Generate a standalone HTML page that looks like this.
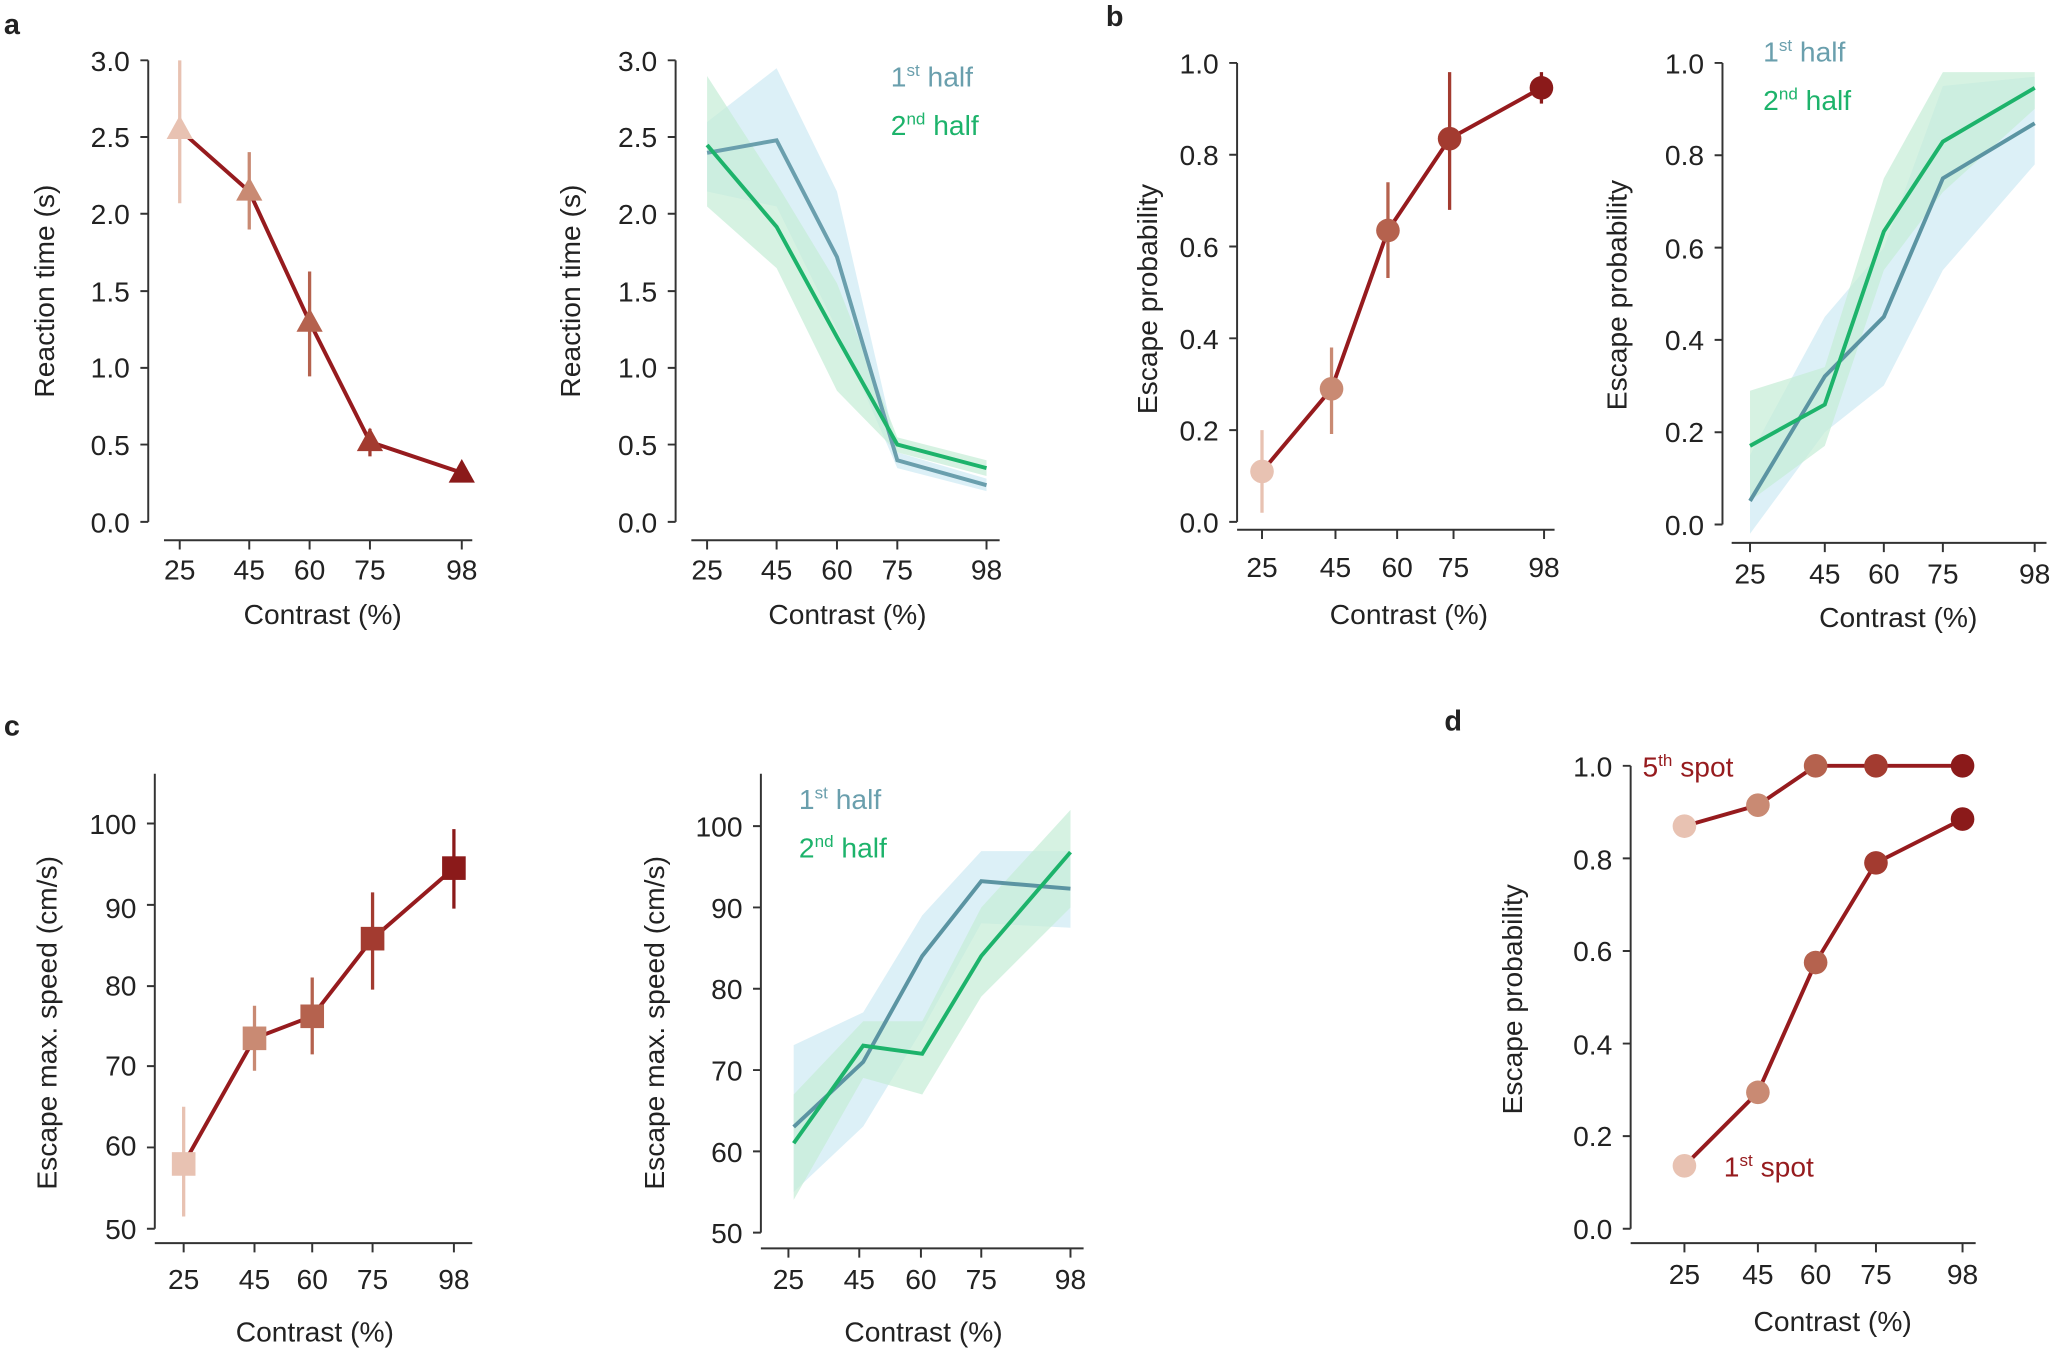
<!DOCTYPE html>
<html><head><meta charset="utf-8"><style>
html,body{margin:0;padding:0;background:#fff}
svg{display:block}
text{font-family:"Liberation Sans",Arial,sans-serif;fill:#222}
</style></head><body>
<svg width="2057" height="1352" viewBox="0 0 1568 1031" preserveAspectRatio="none" xmlns="http://www.w3.org/2000/svg">
<g font-size="21.5">
<!-- panel letters -->
<text x="3" y="26" font-weight="bold" font-size="22">a</text>
<text x="843" y="20" font-weight="bold" font-size="22">b</text>
<text x="3" y="561" font-weight="bold" font-size="22">c</text>
<text x="1101" y="557" font-weight="bold" font-size="22">d</text>

<!-- ===== Panel a left ===== -->
<g stroke="#333" stroke-width="1.5" fill="none">
<path d="M113 46V398M107 46H113M107 104.5H113M107 163H113M107 222H113M107 280.5H113M107 339H113M107 398H113"/>
<path d="M125 412H360M137 412v7M190 412v7M236 412v7M282 412v7M352 412v7"/>
</g>
<g text-anchor="end">
<text x="99" y="54">3.0</text><text x="99" y="112">2.5</text><text x="99" y="171">2.0</text><text x="99" y="230">1.5</text><text x="99" y="288">1.0</text><text x="99" y="347">0.5</text><text x="99" y="406">0.0</text>
</g>
<g text-anchor="middle">
<text x="137" y="442">25</text><text x="190" y="442">45</text><text x="236" y="442">60</text><text x="282" y="442">75</text><text x="352" y="442">98</text>
<text x="246" y="476">Contrast (%)</text>
<text transform="translate(41,222) rotate(-90)">Reaction time (s)</text>
</g>
<g stroke-width="2.5">
<line x1="137" y1="46" x2="137" y2="155" stroke="#e8c2b2"/>
<line x1="190" y1="116" x2="190" y2="175" stroke="#c98a73"/>
<line x1="236" y1="207" x2="236" y2="287" stroke="#b5624e"/>
<line x1="282" y1="327" x2="282" y2="348" stroke="#a33b30"/>
</g>
<polyline points="137,99 190,146 236,245.5 282,337 352,360.5" fill="none" stroke="#961b1e" stroke-width="3"/>
<polygon points="137,88 147,106 127,106" fill="#e8c2b2"/>
<polygon points="190,135 200,153 180,153" fill="#c98a73"/>
<polygon points="236,235 246,253 226,253" fill="#b5624e"/>
<polygon points="282,326 292,344 272,344" fill="#a33b30"/>
<polygon points="352,350 362,368 342,368" fill="#8b1a1a"/>

<!-- ===== Panel a right ===== -->
<g stroke="#333" stroke-width="1.5" fill="none">
<path d="M515 46V398M509 46H515M509 104.5H515M509 163H515M509 222H515M509 280.5H515M509 339H515M509 398H515"/>
<path d="M527 412H762M539 412v7M592 412v7M638 412v7M684 412v7M752 412v7"/>
</g>
<g text-anchor="end">
<text x="501" y="54">3.0</text><text x="501" y="112">2.5</text><text x="501" y="171">2.0</text><text x="501" y="230">1.5</text><text x="501" y="288">1.0</text><text x="501" y="347">0.5</text><text x="501" y="406">0.0</text>
</g>
<g text-anchor="middle">
<text x="539" y="442">25</text><text x="592" y="442">45</text><text x="638" y="442">60</text><text x="684" y="442">75</text><text x="752" y="442">98</text>
<text x="646" y="476">Contrast (%)</text>
<text transform="translate(442,222) rotate(-90)">Reaction time (s)</text>
</g>
<polygon points="539,93 592,52 638,146 684,345 752,365 752,374.5 684,357 638,251 592,157.5 539,146" fill="#cdeaf3" opacity="0.7"/>
<polygon points="539,58 592,140 638,216 684,333.5 752,351 752,363 684,345 638,298 592,204.5 539,157.5" fill="#c5ecd6" opacity="0.7"/>
<polyline points="539,116.5 592,107 638,196 684,351 752,370" fill="none" stroke="#6a9fad" stroke-width="3"/>
<polyline points="539,110.6 592,173 638,257 684,339 752,357" fill="none" stroke="#1db36b" stroke-width="3"/>
<text x="679" y="66" style="fill:#6a9fad">1<tspan font-size="13" dy="-8">st</tspan><tspan dy="8"> half</tspan></text>
<text x="679" y="103" style="fill:#1db36b">2<tspan font-size="13" dy="-8">nd</tspan><tspan dy="8"> half</tspan></text>

<!-- ===== Panel b left ===== -->
<g stroke="#333" stroke-width="1.5" fill="none">
<path d="M943 48V398M937 48H943M937 118H943M937 188H943M937 258H943M937 328H943M937 398H943"/>
<path d="M943 404H1185M962 404v7M1018 404v7M1065 404v7M1108 404v7M1177 404v7"/>
</g>
<g text-anchor="end">
<text x="929" y="56">1.0</text><text x="929" y="126">0.8</text><text x="929" y="196">0.6</text><text x="929" y="266">0.4</text><text x="929" y="336">0.2</text><text x="929" y="406">0.0</text>
</g>
<g text-anchor="middle">
<text x="962" y="440">25</text><text x="1018" y="440">45</text><text x="1065" y="440">60</text><text x="1108" y="440">75</text><text x="1177" y="440">98</text>
<text x="1074" y="476">Contrast (%)</text>
<text transform="translate(882,228) rotate(-90)">Escape probability</text>
</g>
<g stroke-width="2.5">
<line x1="962" y1="328" x2="962" y2="391" stroke="#e8c2b2"/>
<line x1="1015" y1="265" x2="1015" y2="331" stroke="#c98a73"/>
<line x1="1058" y1="139" x2="1058" y2="212" stroke="#b5624e"/>
<line x1="1105" y1="55" x2="1105" y2="160" stroke="#a33b30"/>
<line x1="1175" y1="55" x2="1175" y2="79" stroke="#8b1a1a"/>
</g>
<polyline points="962,359.5 1015,296.5 1058,175.75 1105,105.75 1175,67" fill="none" stroke="#961b1e" stroke-width="3"/>
<circle cx="962" cy="359.5" r="9" fill="#e8c2b2"/>
<circle cx="1015" cy="296.5" r="9" fill="#c98a73"/>
<circle cx="1058" cy="175.75" r="9" fill="#b5624e"/>
<circle cx="1105" cy="105.75" r="9" fill="#a33b30"/>
<circle cx="1175" cy="67" r="9" fill="#8b1a1a"/>

<!-- ===== Panel b right ===== -->
<g stroke="#333" stroke-width="1.5" fill="none">
<path d="M1313 48V400M1307 48H1313M1307 118.4H1313M1307 188.8H1313M1307 259.2H1313M1307 329.6H1313M1307 400H1313"/>
<path d="M1320 414H1560M1334 414v7M1391 414v7M1436 414v7M1481 414v7M1551 414v7"/>
</g>
<g text-anchor="end">
<text x="1299" y="56">1.0</text><text x="1299" y="126">0.8</text><text x="1299" y="197">0.6</text><text x="1299" y="267">0.4</text><text x="1299" y="337">0.2</text><text x="1299" y="408">0.0</text>
</g>
<g text-anchor="middle">
<text x="1334" y="445">25</text><text x="1391" y="445">45</text><text x="1436" y="445">60</text><text x="1481" y="445">75</text><text x="1551" y="445">98</text>
<text x="1447" y="478">Contrast (%)</text>
<text transform="translate(1240,225) rotate(-90)">Escape probability</text>
</g>
<polygon points="1334,347 1391,241.6 1436,189 1481,65.6 1551,58.5 1551,125.4 1481,206 1436,294 1391,329.6 1334,407" fill="#cdeaf3" opacity="0.7"/>
<polygon points="1334,298 1391,280 1436,136 1481,55 1551,55 1551,83 1481,146.5 1436,206 1391,340 1334,382" fill="#c5ecd6" opacity="0.7"/>
<polyline points="1334,382 1391,287 1436,241.6 1481,136 1551,94" fill="none" stroke="#5b94a2" stroke-width="3"/>
<polyline points="1334,340 1391,308.5 1436,176.5 1481,108 1551,67" fill="none" stroke="#1db36b" stroke-width="3"/>
<text x="1344" y="47" style="fill:#6a9fad">1<tspan font-size="13" dy="-8">st</tspan><tspan dy="8"> half</tspan></text>
<text x="1344" y="84" style="fill:#1db36b">2<tspan font-size="13" dy="-8">nd</tspan><tspan dy="8"> half</tspan></text>

<!-- ===== Panel c left ===== -->
<g stroke="#333" stroke-width="1.5" fill="none">
<path d="M118 590V937M112 628H118M112 690H118M112 752H118M112 813H118M112 875H118M112 937H118"/>
<path d="M118 948H360M140 948v7M194 948v7M238 948v7M284 948v7M346 948v7"/>
</g>
<g text-anchor="end">
<text x="104" y="636">100</text><text x="104" y="700">90</text><text x="104" y="759">80</text><text x="104" y="820">70</text><text x="104" y="881">60</text><text x="104" y="945">50</text>
</g>
<g text-anchor="middle">
<text x="140" y="983">25</text><text x="194" y="983">45</text><text x="238" y="983">60</text><text x="284" y="983">75</text><text x="346" y="983">98</text>
<text x="240" y="1023">Contrast (%)</text>
<text transform="translate(43,780) rotate(-90)">Escape max. speed (cm/s)</text>
</g>
<g stroke-width="2.5">
<line x1="140" y1="844" x2="140" y2="927.7" stroke="#e8c2b2"/>
<line x1="194" y1="767" x2="194" y2="816.5" stroke="#c98a73"/>
<line x1="238" y1="745.4" x2="238" y2="804" stroke="#b5624e"/>
<line x1="284" y1="680.5" x2="284" y2="754.7" stroke="#a33b30"/>
<line x1="346" y1="632.3" x2="346" y2="692.9" stroke="#8b1a1a"/>
</g>
<polyline points="140,887.6 194,791.8 238,775 284,715.8 346,662" fill="none" stroke="#961b1e" stroke-width="3"/>
<rect x="131" y="878.6" width="18" height="18" fill="#e8c2b2"/>
<rect x="185" y="782.8" width="18" height="18" fill="#c98a73"/>
<rect x="229" y="766" width="18" height="18" fill="#b5624e"/>
<rect x="275" y="706.8" width="18" height="18" fill="#a33b30"/>
<rect x="337" y="653" width="18" height="18" fill="#8b1a1a"/>

<!-- ===== Panel c right ===== -->
<g stroke="#333" stroke-width="1.5" fill="none">
<path d="M580 590V940M574 630H580M574 692H580M574 754H580M574 816H580M574 878H580M574 940H580"/>
<path d="M580 952H826M601 952v7M655 952v7M702 952v7M748 952v7M816 952v7"/>
</g>
<g text-anchor="end">
<text x="566" y="638">100</text><text x="566" y="700">90</text><text x="566" y="762">80</text><text x="566" y="824">70</text><text x="566" y="886">60</text><text x="566" y="948">50</text>
</g>
<g text-anchor="middle">
<text x="601" y="983">25</text><text x="655" y="983">45</text><text x="702" y="983">60</text><text x="748" y="983">75</text><text x="816" y="983">98</text>
<text x="704" y="1023">Contrast (%)</text>
<text transform="translate(506,780) rotate(-90)">Escape max. speed (cm/s)</text>
</g>
<polygon points="605,797 658,772 703,698 748,649 816,649 816,707.5 748,704 703,785 658,859 605,909" fill="#cdeaf3" opacity="0.7"/>
<polygon points="605,834.6 658,778.8 703,778.8 748,692 816,617.6 816,692 748,760 703,834.6 658,822 605,915" fill="#c5ecd6" opacity="0.7"/>
<polyline points="605,859.4 658,809.8 703,729 748,672 816,677.7" fill="none" stroke="#5b94a2" stroke-width="3"/>
<polyline points="605,871.8 658,797.4 703,803.6 748,729 816,649.8" fill="none" stroke="#1db36b" stroke-width="3"/>
<text x="609" y="617" style="fill:#6a9fad">1<tspan font-size="13" dy="-8">st</tspan><tspan dy="8"> half</tspan></text>
<text x="609" y="654" style="fill:#1db36b">2<tspan font-size="13" dy="-8">nd</tspan><tspan dy="8"> half</tspan></text>

<!-- ===== Panel d ===== -->
<g stroke="#333" stroke-width="1.5" fill="none">
<path d="M1243 584V937M1237 584H1243M1237 654.6H1243M1237 725.2H1243M1237 795.8H1243M1237 866.4H1243M1237 937H1243"/>
<path d="M1243 948H1506M1284 948v7M1340 948v7M1384 948v7M1430 948v7M1496 948v7"/>
</g>
<g text-anchor="end">
<text x="1229" y="592">1.0</text><text x="1229" y="663">0.8</text><text x="1229" y="733">0.6</text><text x="1229" y="804">0.4</text><text x="1229" y="874">0.2</text><text x="1229" y="945">0.0</text>
</g>
<g text-anchor="middle">
<text x="1284" y="979">25</text><text x="1340" y="979">45</text><text x="1384" y="979">60</text><text x="1430" y="979">75</text><text x="1496" y="979">98</text>
<text x="1397" y="1015">Contrast (%)</text>
<text transform="translate(1160,762) rotate(-90)">Escape probability</text>
</g>
<polyline points="1284,630 1340,614 1384,584 1430,584 1496,584" fill="none" stroke="#961b1e" stroke-width="3"/>
<polyline points="1284,889 1340,833 1384,734 1430,658 1496,624.6" fill="none" stroke="#961b1e" stroke-width="3"/>
<circle cx="1284" cy="630" r="9" fill="#e8c2b2"/>
<circle cx="1340" cy="614" r="9" fill="#c98a73"/>
<circle cx="1384" cy="584" r="9" fill="#b5624e"/>
<circle cx="1430" cy="584" r="9" fill="#a33b30"/>
<circle cx="1496" cy="584" r="9" fill="#8b1a1a"/>
<circle cx="1284" cy="889" r="9" fill="#e8c2b2"/>
<circle cx="1340" cy="833" r="9" fill="#c98a73"/>
<circle cx="1384" cy="734" r="9" fill="#b5624e"/>
<circle cx="1430" cy="658" r="9" fill="#a33b30"/>
<circle cx="1496" cy="624.6" r="9" fill="#8b1a1a"/>
<text x="1252" y="592" style="fill:#961b1e">5<tspan font-size="13" dy="-8">th</tspan><tspan dy="8"> spot</tspan></text>
<text x="1314" y="897" style="fill:#961b1e">1<tspan font-size="13" dy="-8">st</tspan><tspan dy="8"> spot</tspan></text>
</g>
</svg>
</body></html>
